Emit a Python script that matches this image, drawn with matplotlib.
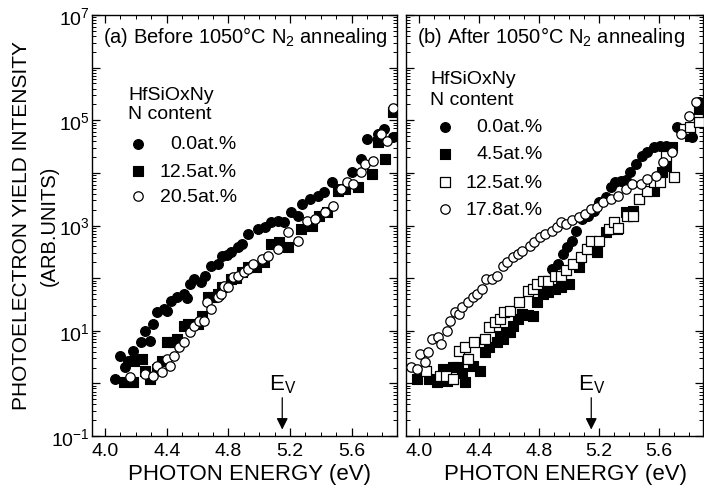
import numpy as np
import matplotlib
matplotlib.use("Agg")
import matplotlib.pyplot as plt
from matplotlib.ticker import FixedLocator, FuncFormatter, MultipleLocator, LogLocator, NullFormatter

plt.rcParams['font.family'] = ['Liberation Sans', 'DejaVu Sans']
plt.rcParams['mathtext.fontset'] = 'custom'
plt.rcParams['mathtext.rm'] = 'Liberation Sans'
plt.rcParams['mathtext.it'] = 'Liberation Sans'
plt.rcParams['mathtext.bf'] = 'Liberation Sans'

# ---------------------------------------------------------------------------
# data: photon energy (eV) and log10(yield intensity)
# ---------------------------------------------------------------------------
# (a) before annealing
a_n00_x = [4.065, 4.10, 4.13, 4.15, 4.18, 4.23, 4.26, 4.29, 4.31, 4.34, 4.38, 4.40, 4.43,
           4.47, 4.51, 4.53, 4.55, 4.58, 4.62, 4.65, 4.69, 4.73, 4.76, 4.79, 4.82, 4.86,
           4.89, 4.93, 4.99, 5.04, 5.08, 5.12, 5.16, 5.21, 5.25, 5.28, 5.33, 5.38, 5.42,
           5.47, 5.51, 5.60, 5.66, 5.70, 5.77, 5.81, 5.87]
a_n00_logy = [0.08, 0.52, 0.31, 0.42, 0.61, 0.78, 0.99, 0.80, 1.13, 1.35, 1.41, 1.37, 1.56,
              1.64, 1.70, 1.62, 1.89, 1.98, 1.93, 2.04, 2.23, 2.27, 2.42, 2.44, 2.49, 2.59,
              2.65, 2.84, 2.93, 2.97, 3.06, 3.08, 3.06, 3.26, 3.18, 3.41, 3.50, 3.56, 3.63,
              3.83, 3.69, 4.02, 4.26, 4.64, 4.74, 4.83, 4.68]

a_n125_x = [4.12, 4.18, 4.19, 4.24, 4.26, 4.29, 4.34, 4.37, 4.40, 4.44, 4.47, 4.51, 4.54,
            4.60, 4.63, 4.67, 4.70, 4.73, 4.76, 4.82, 4.85, 4.89, 4.93, 4.98, 5.03, 5.08,
            5.13, 5.19, 5.27, 5.34, 5.39, 5.44, 5.51, 5.56, 5.64, 5.73, 5.77, 5.82, 5.87]
a_n125_logy = [0.03, 0.03, 0.42, 0.46, 0.23, 0.08, 0.27, 0.42, 0.78, 0.78, 0.84, 1.09, 1.13,
               1.12, 1.28, 1.64, 1.64, 1.70, 1.83, 1.98, 2.00, 2.11, 2.21, 2.21, 2.30, 2.65,
               2.68, 2.59, 2.93, 2.99, 3.18, 3.26, 3.65, 3.69, 3.73, 3.98, 4.59, 4.26, 5.16]

a_n205_x = [4.16, 4.26, 4.31, 4.34, 4.37, 4.40, 4.42, 4.45, 4.48, 4.51, 4.55, 4.58, 4.61,
            4.64, 4.66, 4.69, 4.73, 4.75, 4.77, 4.80, 4.83, 4.86, 4.90, 4.93, 4.96, 5.02,
            5.06, 5.12, 5.19, 5.25, 5.31, 5.36, 5.43, 5.48, 5.53, 5.57, 5.61, 5.66, 5.69,
            5.74, 5.79, 5.83, 5.87]
a_n205_logy = [0.12, 0.17, 0.14, 0.33, 0.21, 0.46, 0.33, 0.52, 0.69, 0.78, 0.97, 1.09, 1.18,
               1.18, 1.54, 1.41, 1.64, 1.70, 1.85, 1.83, 2.02, 2.04, 2.11, 2.17, 2.27, 2.36,
               2.42, 2.55, 2.87, 2.70, 3.08, 3.12, 3.26, 3.37, 3.69, 3.83, 3.79, 4.02, 4.17,
               4.22, 4.74, 4.60, 5.23]

# (b) after annealing
b_n00_x = [4.89, 4.93, 4.96, 4.99, 5.02, 5.05, 5.09, 5.13, 5.17, 5.20, 5.25, 5.28, 5.31,
           5.35, 5.38, 5.41, 5.45, 5.49, 5.52, 5.57, 5.61, 5.65, 5.68, 5.72, 5.77, 5.82, 5.87]
b_n00_logy = [2.17, 2.27, 2.45, 2.59, 2.70, 2.89, 3.12, 3.18, 3.27, 3.44, 3.54, 3.73, 3.83,
              3.84, 3.86, 4.02, 4.17, 4.32, 4.40, 4.49, 4.51, 4.51, 4.49, 4.87, 4.79, 4.68, 5.35]

b_n45_x = [3.99, 4.07, 4.12, 4.15, 4.16, 4.19, 4.23, 4.26, 4.29, 4.31, 4.32, 4.36, 4.41,
           4.44, 4.47, 4.52, 4.54, 4.56, 4.58, 4.61, 4.63, 4.66, 4.69, 4.73, 4.76, 4.79,
           4.83, 4.86, 4.91, 4.95, 5.00, 5.07, 5.13, 5.19, 5.25, 5.32, 5.38, 5.43, 5.47,
           5.57, 5.62, 5.65, 5.69, 5.81, 5.87]
b_n45_logy = [0.08, 0.08, 0.03, 0.08, 0.27, 0.05, 0.31, 0.31, 0.20, 0.03, 0.46, 0.33, 0.23,
              0.59, 0.69, 0.78, 0.90, 0.84, 0.97, 0.97, 1.09, 1.22, 1.32, 1.30, 1.28, 1.54,
              1.70, 1.73, 1.79, 1.83, 1.89, 2.21, 2.55, 2.49, 2.87, 2.93, 3.26, 3.27, 3.50,
              3.65, 4.02, 4.13, 4.49, 4.70, 5.21]

b_n125_x = [4.05, 4.14, 4.18, 4.23, 4.27, 4.31, 4.33, 4.37, 4.44, 4.47, 4.51, 4.54, 4.57,
            4.61, 4.67, 4.73, 4.76, 4.79, 4.83, 4.86, 4.91, 4.95, 4.98, 5.03, 5.08, 5.12,
            5.15, 5.20, 5.27, 5.30, 5.33, 5.39, 5.43, 5.47, 5.52, 5.57, 5.61, 5.65, 5.70,
            5.77, 5.81, 5.87]
b_n125_logy = [0.23, 0.14, 0.14, 0.08, 0.61, 0.69, 0.46, 0.78, 0.84, 1.07, 1.16, 1.22, 1.35,
               1.37, 1.54, 1.75, 1.79, 1.89, 1.94, 1.94, 2.04, 2.04, 2.15, 2.27, 2.40, 2.55,
               2.70, 2.70, 2.93, 3.06, 2.95, 3.18, 3.18, 3.50, 3.65, 3.83, 3.83, 4.32, 3.92,
               4.83, 4.87, 4.97]

b_n178_x = [3.95, 3.99, 4.01, 4.04, 4.06, 4.09, 4.13, 4.15, 4.19, 4.21, 4.24, 4.27, 4.29,
            4.33, 4.36, 4.39, 4.42, 4.45, 4.49, 4.52, 4.56, 4.59, 4.63, 4.66, 4.69, 4.74,
            4.77, 4.81, 4.84, 4.89, 4.92, 4.95, 4.98, 5.02, 5.07, 5.11, 5.15, 5.19, 5.23,
            5.28, 5.33, 5.38, 5.42, 5.48, 5.52, 5.58, 5.63, 5.69, 5.75, 5.80, 5.85]
b_n178_logy = [0.31, 0.27, 0.56, 0.40, 0.59, 0.84, 0.88, 0.75, 0.99, 1.18, 1.35, 1.32, 1.45,
               1.54, 1.64, 1.70, 1.79, 1.98, 1.98, 2.04, 2.23, 2.30, 2.40, 2.46, 2.51, 2.61,
               2.68, 2.78, 2.84, 2.89, 2.97, 3.06, 3.03, 3.10, 3.16, 3.22, 3.31, 3.35, 3.44,
               3.50, 3.56, 3.69, 3.79, 3.79, 3.88, 3.94, 4.21, 4.40, 4.74, 5.08, 5.35]

EV = 5.15
XTICKS = [4.0, 4.4, 4.8, 5.2, 5.6]
FS_TICK = 14
FS_LEG = 14
FS_TITLE = 14.5

fig = plt.figure(figsize=(7.04, 4.89), dpi=100)
ax_a = fig.add_axes([92/704, 52/489, 305/704, 421/489])
ax_b = fig.add_axes([406/704, 52/489, 297/704, 421/489])

# marker styles: filled circle, filled square, open square, open circle
STY = {
    "fc": dict(marker="o", s=50, facecolor="black", edgecolor="black", linewidths=0.8),
    "fs": dict(marker="s", s=50, facecolor="black", edgecolor="black", linewidths=0.8),
    "os": dict(marker="s", s=50, facecolor="white", edgecolor="black", linewidths=0.9),
    "oc": dict(marker="o", s=46, facecolor="white", edgecolor="black", linewidths=0.9),
}

def draw(ax, series):
    for x, ly, key in series:
        ax.scatter(x, np.power(10.0, ly), zorder=3, **STY[key])

draw(ax_a, [(a_n00_x, a_n00_logy, "fc"), (a_n125_x, a_n125_logy, "fs"),
            (a_n205_x, a_n205_logy, "oc")])
draw(ax_b, [(b_n00_x, b_n00_logy, "fc"), (b_n45_x, b_n45_logy, "fs"),
            (b_n125_x, b_n125_logy, "os"), (b_n178_x, b_n178_logy, "oc")])

def ylab(v, pos):
    e = int(round(np.log10(v)))
    return r"10$^{%d}$" % e if e % 2 else ""

for ax in (ax_a, ax_b):
    ax.set_yscale("log")
    ax.set_ylim(1e-1, 1e7)
    ax.set_xlim(3.915, 5.895)
    ax.xaxis.set_major_locator(FixedLocator(XTICKS))
    ax.xaxis.set_minor_locator(MultipleLocator(0.1))
    ax.set_xticklabels([f"{t:.1f}" for t in XTICKS])
    ax.yaxis.set_major_locator(FixedLocator([10.0 ** e for e in range(-1, 8)]))
    ax.yaxis.set_minor_locator(LogLocator(base=10, subs=np.arange(2, 10), numticks=20))
    ax.yaxis.set_minor_formatter(NullFormatter())
    ax.yaxis.set_major_formatter(FuncFormatter(ylab))
    ax.tick_params(which="both", direction="in", top=True, right=True, labelsize=FS_TICK)
    ax.tick_params(which="major", length=6, width=0.9)
    ax.tick_params(which="minor", length=3, width=0.7)
    ax.tick_params(axis="x", pad=4)
    ax.tick_params(axis="y", pad=1.5)
    for sp in ax.spines.values():
        sp.set_linewidth(1.0)
    ax.annotate("", xy=(EV, 10 ** -0.93), xytext=(EV, 10 ** -0.22),
                arrowprops=dict(arrowstyle="-|>", color="black", lw=0.9, mutation_scale=17))
    ax.text(EV, 10 ** 0.0, r"E$_\mathregular{V}$", ha="center", va="center", fontsize=16)

ax_b.tick_params(axis="y", labelleft=False)

# panel (a) annotations
ax_a.text(0.036, 0.95, r"(a) Before 1050°C N$_2$ annealing", transform=ax_a.transAxes,
          ha="left", va="center", fontsize=FS_TITLE)
ax_a.text(0.118, 0.812, "HfSiOxNy", transform=ax_a.transAxes, va="center", fontsize=FS_LEG)
ax_a.text(0.118, 0.765, "N content", transform=ax_a.transAxes, va="center", fontsize=FS_LEG)
for yy, key, lab in [(0.694, "fc", "0.0at.%"), (0.629, "fs", "12.5at.%"), (0.570, "oc", "20.5at.%")]:
    ax_a.scatter([0.151], [yy], transform=ax_a.transAxes, **STY[key])
    ax_a.text(0.475, yy, lab, transform=ax_a.transAxes, ha="right", va="center", fontsize=FS_LEG)

# panel (b) annotations
ax_b.text(0.037, 0.95, r"(b) After 1050°C N$_2$ annealing", transform=ax_b.transAxes,
          ha="left", va="center", fontsize=FS_TITLE)
ax_b.text(0.081, 0.848, "HfSiOxNy", transform=ax_b.transAxes, va="center", fontsize=FS_LEG)
ax_b.text(0.081, 0.800, "N content", transform=ax_b.transAxes, va="center", fontsize=FS_LEG)
for yy, key, lab in [(0.734, "fc", "0.0at.%"), (0.670, "fs", "4.5at.%"),
                     (0.603, "os", "12.5at.%"), (0.539, "oc", "17.8at.%")]:
    ax_b.scatter([0.131], [yy], transform=ax_b.transAxes, **STY[key])
    ax_b.text(0.461, yy, lab, transform=ax_b.transAxes, ha="right", va="center", fontsize=FS_LEG)

# axis titles
fig.text(249/704, 1 - 475/489, "PHOTON ENERGY (eV)", ha="center", va="center", fontsize=16)
fig.text(566/704, 1 - 475/489, "PHOTON ENERGY (eV)", ha="center", va="center", fontsize=16)
fig.text(22/704, 1 - 226/489, "PHOTOELECTRON YIELD INTENSITY", rotation=90,
         ha="center", va="center", fontsize=15)
fig.text(49/704, 1 - 226/489, "(ARB.UNITS)", rotation=90, ha="center", va="center",
         fontsize=14.5)

fig.savefig("out.png", dpi=100)
